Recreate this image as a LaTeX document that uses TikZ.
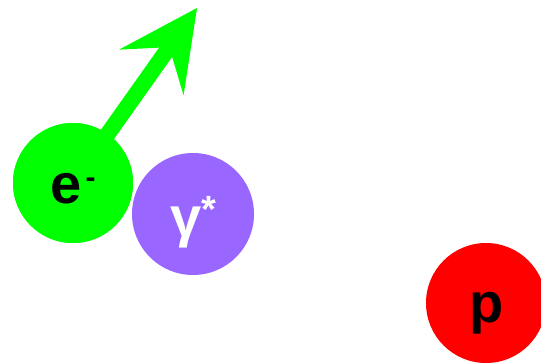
\documentclass[tikz,border=0pt]{standalone}
\usepackage{fontspec}
\setmainfont{Liberation Sans}
\usetikzlibrary{arrows.meta}
\definecolor{egreen}{RGB}{0,255,0}
\definecolor{gpurple}{RGB}{153,102,255}
\definecolor{pred}{RGB}{255,0,0}
\tikzset{
  ball/.style={circle, inner sep=0pt, outer sep=0pt},
  bigtext/.style={anchor=base, inner sep=0pt, font=\bfseries\fontsize{56}{60}\selectfont},
  arrowline/.style={draw=egreen, line width=16pt,
    -{Stealth[length=79pt, width=79pt, inset=31pt, line width=0pt, fill=egreen]}}
}
\begin{document}
\begin{tikzpicture}[x=1pt, y=-1pt]
  \useasboundingbox (0,0) rectangle (541,362);
  \clip (0,0) rectangle (541,362);
  \coordinate (etip) at (197,8);
  \node[ball, fill=egreen, minimum size=120pt] (eball) at (73,183) {};
  \draw[arrowline] (eball.center) -- (etip);
  \node[ball, fill=egreen, minimum size=120pt] (eball2) at (73,183) {};
  \node[ball, fill=gpurple, minimum size=122pt] (gball) at (193,214) {};
  \node[ball, fill=pred, minimum size=120pt] (pball) at (486,303) {};
  \node[bigtext, text=black] (elabel) at (73,203) {e\kern4pt\raisebox{16pt}{\fontsize{30}{30}\selectfont -}};
  \node[bigtext, text=white] (glabel) at (193,236) {γ\raisebox{14pt}{\fontsize{38}{38}\selectfont *}};
  \node[bigtext, text=black] (plabel) at (487,322) {p};
\end{tikzpicture}
\end{document}
